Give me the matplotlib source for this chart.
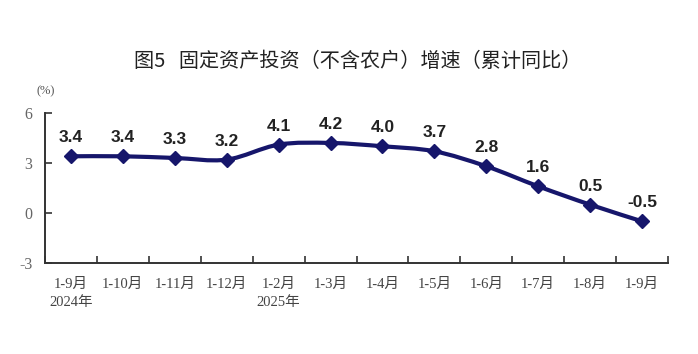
import numpy as np
import matplotlib.pyplot as plt
from matplotlib.path import Path
from matplotlib.patches import PathPatch

months = ['1-9月\n2024年', '1-10月', '1-11月', '1-12月', '1-2月\n2025年', '1-3月',
          '1-4月', '1-5月', '1-6月', '1-7月', '1-8月', '1-9月']
growth = [3.4, 3.4, 3.3, 3.2, 4.1, 4.2, 4.0, 3.7, 2.8, 1.6, 0.5, -0.5]
yticks = [-3, 0, 3, 6]

navy = '#16166b'
cjk = ['Noto Sans CJK SC', 'DejaVu Sans']
serif = ['Liberation Serif', 'Noto Sans CJK SC']

fig = plt.figure(figsize=(6.98, 3.54), dpi=100)
ax = fig.add_axes([0.0645, 0.257, 0.8925, 0.424])

x = np.arange(len(growth))
y = np.array(growth)

# smoothed line like the original (bezier through the points)
verts = [(x[0], y[0])]
codes = [Path.MOVETO]
k = 1 / 6
for i in range(len(x) - 1):
    p0 = np.array([x[max(i - 1, 0)], y[max(i - 1, 0)]])
    p1 = np.array([x[i], y[i]])
    p2 = np.array([x[i + 1], y[i + 1]])
    p3 = np.array([x[min(i + 2, len(x) - 1)], y[min(i + 2, len(x) - 1)]])
    c1 = p1 + (p2 - p0) * k
    c2 = p2 - (p3 - p1) * k
    verts += [tuple(c1), tuple(c2), tuple(p2)]
    codes += [Path.CURVE4] * 3
ax.add_patch(PathPatch(Path(verts, codes), fill=False, edgecolor=navy, lw=3, zorder=3))
ax.plot(x, y, ls='none', marker='D', ms=7.5, color=navy, zorder=4)

for xi, v in zip(x, growth):
    ax.annotate(f'{v:.1f}', (xi, v), xytext=(0, 8), textcoords='offset points',
                ha='center', va='bottom', fontsize=12.5, fontweight='bold',
                color='#222222', family='Liberation Sans')

ax.set_xlim(-0.5, len(growth) - 0.5)
ax.set_ylim(-3, 6)
ax.set_yticks(yticks)
ax.set_yticklabels([str(t) for t in yticks], family=serif, fontsize=11.5, color='#666666')
ax.set_xticks(x)
ax.set_xticklabels(months, family=serif, fontsize=10.5, color='#444444', linespacing=1.5)
ax.set_xticks(np.arange(len(growth) + 1) - 0.5, minor=True)
ax.tick_params(axis='x', which='major', length=0, pad=11)
ax.tick_params(axis='x', which='minor', direction='in', length=5, width=1.2, color='#333333')
ax.tick_params(axis='y', direction='in', length=5, width=1.2, color='#333333', pad=9)

for s in ['top', 'right']:
    ax.spines[s].set_visible(False)
for s in ['left', 'bottom']:
    ax.spines[s].set_linewidth(1.4)
    ax.spines[s].set_color('#333333')

fig.text(0.512, 0.825, '图5   固定资产投资（不含农户）增速（累计同比）', ha='center', va='center',
         fontsize=14.5, family=cjk, fontweight='medium', color='#222222')
fig.text(0.052, 0.742, '(%)', ha='left', va='center', fontsize=9, family=serif, color='#555555')

fig.savefig('out.png', dpi=100)
